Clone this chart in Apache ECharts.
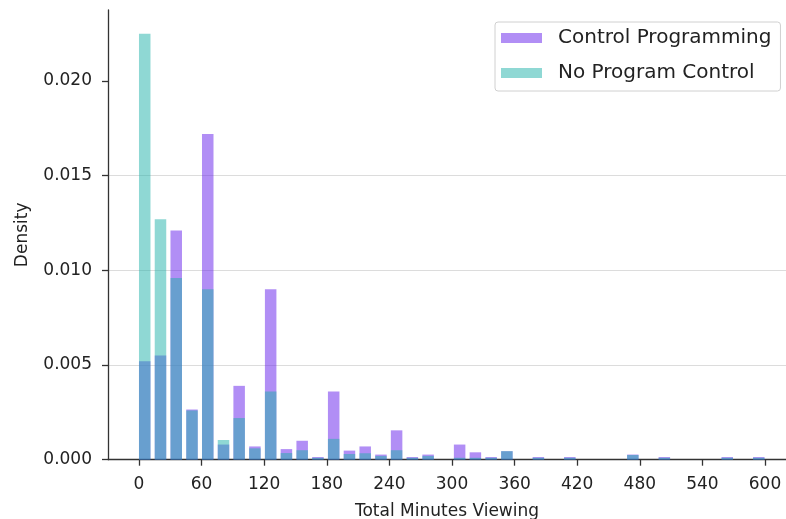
<!DOCTYPE html>
<html>
<head>
<meta charset="utf-8">
<title>Total Minutes Viewing</title>
<script src="https://cdn.jsdelivr.net/npm/echarts@6/dist/echarts.min.js"></script>
<style>
    html, body { margin: 0; padding: 0; background: #fff; }
    #chart { width: 786px; height: 519px; }
</style>
</head>
<body>
<div id="chart"></div>
<script>
    // left edge of each histogram bin (minutes)
    const binStarts = [0, 15.1, 30.2, 45.3, 60.4, 75.5, 90.5, 105.6, 120.7, 135.8,
        150.9, 166, 181.1, 196.2, 211.3, 226.4, 241.4, 256.5, 271.6, 286.7,
        301.8, 316.9, 332, 347.1, 362.2, 377.3, 392.3, 407.4, 422.5, 437.6,
        452.7, 467.8, 482.9, 498, 513.1, 528.2, 543.2, 558.3, 573.4, 588.5]
    // density per bin
    const controlProgramming = [0.0052, 0.0055, 0.0121, 0.00265, 0.0172, 0.0008, 0.0039, 0.0007, 0.0090, 0.00056,
        0.0010, 0.00014, 0.0036, 0.00048, 0.0007, 0.00027, 0.00155, 0.00014, 0.00027, 0,
        0.0008, 0.00039, 0.00014, 0.00045, 0, 0.00014, 0, 0.00014, 0, 0,
        0, 0.00027, 0, 0.00014, 0, 0, 0, 0.00014, 0, 0.00014]
    const noProgramControl = [0.0225, 0.0127, 0.0096, 0.0026, 0.0090, 0.00104, 0.0022, 0.0006, 0.0036, 0.00035,
        0.0005, 0.0001, 0.0011, 0.0003, 0.00034, 0.0002, 0.0005, 0.0001, 0.0002, 0,
        0.0001, 0.0001, 0.0001, 0.00045, 0, 0.0001, 0, 0.0001, 0, 0,
        0, 0.00025, 0, 0.0001, 0, 0, 0, 0.0001, 0, 0.0001]
    const xTicks = [0, 60, 120, 180, 240, 300, 360, 420, 480, 540, 600]
    const yTicks = [0, 0.005, 0.010, 0.015, 0.020]

    const barOffset = 5.5   // bars are drawn from the left edge of each bin
    const textColor = '#222'
    const font = 'DejaVu Sans'

    function toPoints(values){
        return values.map((v, i) => [binStarts[i] + barOffset, v])
    }

    let chartInstance = echarts.init(document.getElementById('chart'), null, {renderer: 'canvas'})

    const option = {
        animation: false,
        textStyle: { fontFamily: font },
        grid: { left: 108, right: 0, top: 10, bottom: 59.3, containLabel: false, outerBoundsMode: 'none' },
        legend: {
            orient: 'vertical',
            left: 495,
            top: 22,
            padding: [6, 9, 8, 6],
            icon: 'rect',
            itemWidth: 41,
            itemHeight: 10,
            itemGap: 15,
            borderColor: '#d0d0d0',
            borderWidth: 1,
            borderRadius: 3,
            textStyle: { fontSize: 20, color: textColor, fontFamily: font, padding: [0, 0, 0, 11] },
            data: ['Control Programming', 'No Program Control']
        },
        xAxis: {
            type: 'value',
            min: -29.7,
            max: 620.1,
            name: 'Total Minutes Viewing',
            nameLocation: 'middle',
            nameGap: 43,
            nameTextStyle: { fontSize: 17, color: textColor, fontFamily: font },
            axisLine: { show: true, onZero: false, lineStyle: { color: '#333', width: 1.3 } },
            axisTick: { show: true, length: 6, customValues: xTicks, lineStyle: { color: '#333', width: 1.3 } },
            axisLabel: { customValues: xTicks, fontSize: 17, color: textColor, margin: 16 },
            splitLine: { show: false }
        },
        yAxis: {
            type: 'value',
            min: 0,
            max: 0.02375,
            interval: 0.005,
            name: 'Density',
            nameLocation: 'middle',
            nameGap: 77,
            nameTextStyle: { fontSize: 17, color: textColor, fontFamily: font },
            axisLine: { show: true, onZero: false, lineStyle: { color: '#333', width: 1.3 } },
            axisTick: { show: true, length: 6, customValues: yTicks, lineStyle: { color: '#333', width: 1.3 } },
            axisLabel: {
                customValues: yTicks, fontSize: 17, color: textColor, margin: 16,
                formatter: (v) => v.toFixed(3)
            },
            splitLine: { show: true, showMinLine: false, showMaxLine: false, lineStyle: { color: '#dcdcdc', width: 1 } }
        },
        series: [
            {
                name: 'Control Programming',
                type: 'bar',
                barWidth: 11.5,
                barGap: '-100%',
                itemStyle: { color: 'rgba(100,30,235,0.5)' },
                data: toPoints(controlProgramming)
            },
            {
                name: 'No Program Control',
                type: 'bar',
                barWidth: 11.5,
                barGap: '-100%',
                itemStyle: { color: 'rgba(32,178,170,0.5)' },
                data: toPoints(noProgramControl)
            }
        ]
    }
    chartInstance.setOption(option)
</script>
</body>
</html>
